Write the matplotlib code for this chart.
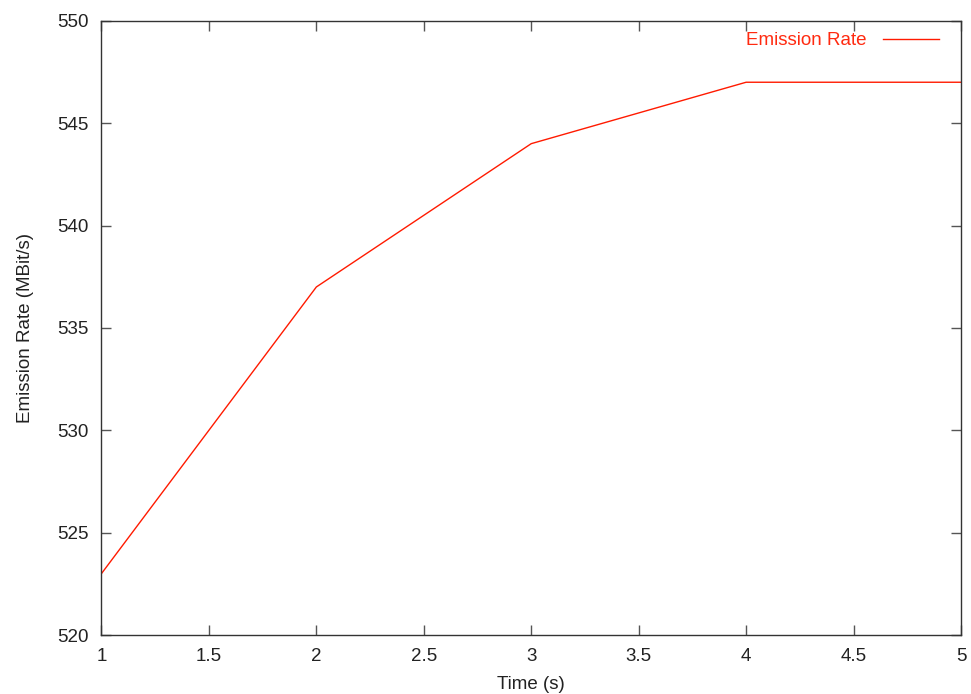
import matplotlib.pyplot as plt

time_s = [1, 2, 3, 4, 5]
emission_rate = [523, 537, 544, 547, 547]
x_ticks = [1, 1.5, 2, 2.5, 3, 3.5, 4, 4.5, 5]
y_ticks = [520, 525, 530, 535, 540, 545, 550]

plt.rcParams['font.family'] = ['Liberation Sans', 'DejaVu Sans']

fig = plt.figure(figsize=(9.71, 6.94), dpi=100)
ax = fig.add_axes([0.1045, 0.085, 0.8852, 0.885])

ax.plot(time_s, emission_rate, color='#ff1a00', linewidth=1, label='Emission Rate')

ax.set_xlim(1, 5)
ax.set_ylim(520, 550)
ax.set_xticks(x_ticks)
ax.set_xticklabels(['1', '1.5', '2', '2.5', '3', '3.5', '4', '4.5', '5'])
ax.set_yticks(y_ticks)
ax.tick_params(direction='in', length=7, width=1, color='#555555',
               top=True, right=True, labelsize=13.5, labelcolor='#222222', pad=9)
for s in ax.spines.values():
    s.set_color('#333333')
    s.set_linewidth(1)

ax.set_xlabel('Time (s)', fontsize=13.5, color='#222222', labelpad=8)
ax.set_ylabel('Emission Rate (MBit/s)', fontsize=13.5, color='#222222', labelpad=17)

leg = ax.legend(loc='upper right', frameon=False, markerfirst=False,
                fontsize=13.5, handlelength=3.0, handletextpad=0.9,
                borderaxespad=0.2, bbox_to_anchor=(0.988, 1.0))
for t in leg.get_texts():
    t.set_color('#ff2a10')

fig.savefig('out.png', dpi=100)
plt.close()
